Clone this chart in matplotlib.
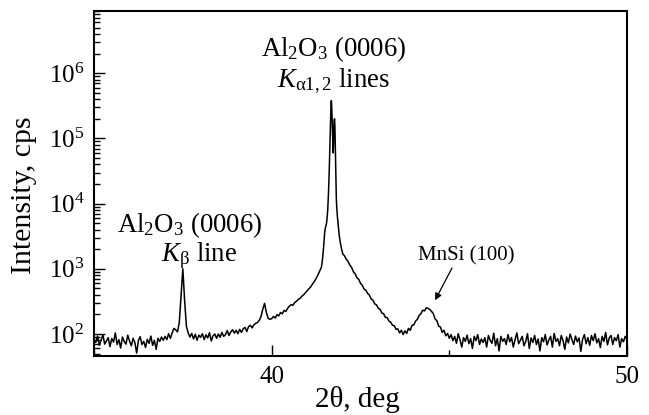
import numpy as np
import matplotlib
matplotlib.use("Agg")
import matplotlib.pyplot as plt
from matplotlib.ticker import MultipleLocator, LogLocator, NullFormatter

plt.rcParams['font.family'] = ['Liberation Serif', 'DejaVu Serif']
plt.rcParams['mathtext.fontset'] = 'custom'
plt.rcParams['mathtext.rm'] = 'Liberation Serif'
plt.rcParams['mathtext.it'] = 'Liberation Serif:italic'

# 2theta grid: coarse on the sides, fine through the sapphire doublet
tt_left = np.round(np.arange(35.00, 41.351, 0.05), 2)
tt_mid = np.round(np.arange(41.40, 42.001, 0.01), 2)
tt_right = np.round(np.arange(42.05, 50.001, 0.05), 2)

# intensity (cps)
cps_left = [
    83, 74, 93, 67, 80, 98, 70, 78, 88, 64,
    85, 75, 104, 69, 82, 61, 90, 77, 70, 96,
    78, 66, 86, 74, 51, 80, 91, 69, 77, 62,
    83, 72, 93, 67, 80, 58, 86, 77, 90, 80,
    92, 82, 101, 86, 104, 122, 116, 108, 150, 390,
    1000, 330, 132, 104, 90, 102, 84, 99, 80, 96,
    89, 101, 82, 97, 87, 105, 78, 94, 100, 86,
    100, 89, 106, 92, 98, 113, 95, 108, 116, 103,
    114, 101, 118, 106, 121, 126, 109, 130, 136, 124,
    138, 146, 150, 162, 185, 240, 295, 215, 175, 168,
    172, 186, 176, 198, 190, 214, 204, 230, 222, 248,
    268, 282, 276, 305, 318, 340, 352, 380, 400, 430,
    460, 495, 530, 585, 640, 710, 800, 920,
]
cps_mid = [
    1060, 1150, 1260, 1400, 1580, 1800, 2100, 2500, 3000, 3500,
    3900, 4200, 4400, 4600, 4900, 5300, 6000, 7000, 8500, 11000,
    15000, 21000, 32000, 52000, 90000, 150000, 240000, 330000, 380000, 310000,
    200000, 120000, 75000, 60000, 80000, 150000, 190000, 200000, 150000, 80000,
    40000, 20000, 12000, 9000, 7400, 6300, 5500, 4800, 4200, 3700,
    3300, 3000, 2750, 2550, 2380, 2230, 2100, 1990, 1890, 1800,
    1700,
]
cps_right = [
    1580, 1400, 1300, 1140, 1050, 900, 840, 730, 690, 600,
    560, 490, 470, 420, 395, 345, 330, 290, 280, 248,
    240, 210, 205, 180, 178, 158, 152, 136, 134, 118,
    120, 104, 114, 98, 112, 102, 122, 114, 136, 138,
    158, 168, 192, 205, 232, 226, 252, 248, 238, 222,
    205, 170, 160, 132, 128, 106, 114, 94, 102, 86,
    98, 79, 92, 72, 101, 82, 63, 88, 77, 96,
    71, 85, 60, 92, 79, 98, 69, 84, 74, 88,
    63, 95, 80, 72, 103, 66, 85, 55, 92, 77,
    85, 69, 98, 76, 88, 63, 82, 104, 71, 80,
    92, 66, 77, 101, 60, 87, 74, 95, 69, 84,
    55, 88, 76, 98, 68, 81, 92, 63, 102, 77,
    85, 66, 95, 79, 58, 90, 73, 100, 82, 69,
    93, 76, 87, 54, 83, 98, 71, 88, 67, 95,
    79, 101, 73, 85, 62, 92, 77, 106, 68, 87,
    95, 69, 88, 79, 98, 63, 85, 76, 92, 82,
]

two_theta = np.concatenate([tt_left, tt_mid[:len(cps_mid)], tt_right])
intensity = np.array(cps_left + cps_mid[:len(tt_mid)] + cps_right, dtype=float)

W, H = 649, 415
fig = plt.figure(figsize=(W / 100, H / 100), dpi=100)
ax = fig.add_axes([94 / W, 1 - 356 / H, (627 - 94) / W, (356 - 11) / H])

ax.plot(two_theta, intensity, color='black', lw=1.1)
ax.set_yscale('log')
ax.set_xlim(35, 50)
ax.set_ylim(46, 9e6)

ax.xaxis.set_major_locator(MultipleLocator(10))
ax.xaxis.set_minor_locator(MultipleLocator(5))
ax.yaxis.set_major_locator(LogLocator(base=10, numticks=20))
ax.yaxis.set_minor_locator(LogLocator(base=10, subs=np.arange(2, 10), numticks=20))
ax.yaxis.set_minor_formatter(NullFormatter())

ax.tick_params(which='both', direction='in', top=False, right=False,
               labelsize=18, width=1.0)
ax.tick_params(which='major', length=8, pad=7)
ax.tick_params(which='minor', length=4)
for s in ax.spines.values():
    s.set_linewidth(1.5)


def ftext(px, py, s, **kw):
    kw.setdefault('ha', 'center')
    kw.setdefault('va', 'baseline')
    fig.text(px / W, 1 - py / H, s, **kw)


# axis labels
ftext(357, 399, '2θ, deg', fontsize=21, va='center')
ftext(24, 195, 'Intensity, cps', fontsize=21.5, va='center', rotation=90)

# peak labels
ftext(334, 56, r'Al$_2$O$_3$ (0006)', fontsize=19.3)
ftext(334, 87, r'$K_{\mathrm{\alpha 1,2}}$ lines', fontsize=19.3)
ftext(190, 232, r'Al$_2$O$_3$ (0006)', fontsize=19.3)
ftext(199, 261, r'$K_{\mathrm{\beta}}$ line', fontsize=19.3)
ftext(466, 260, 'MnSi (100)', fontsize=15)

ax.annotate('', xy=(44.6, 330), xycoords='data',
            xytext=(452 / W, 1 - 268 / H), textcoords='figure fraction',
            arrowprops=dict(arrowstyle='-|>', color='black', lw=0.9,
                            mutation_scale=10, shrinkA=0, shrinkB=0))

fig.savefig('out.png', dpi=100)
